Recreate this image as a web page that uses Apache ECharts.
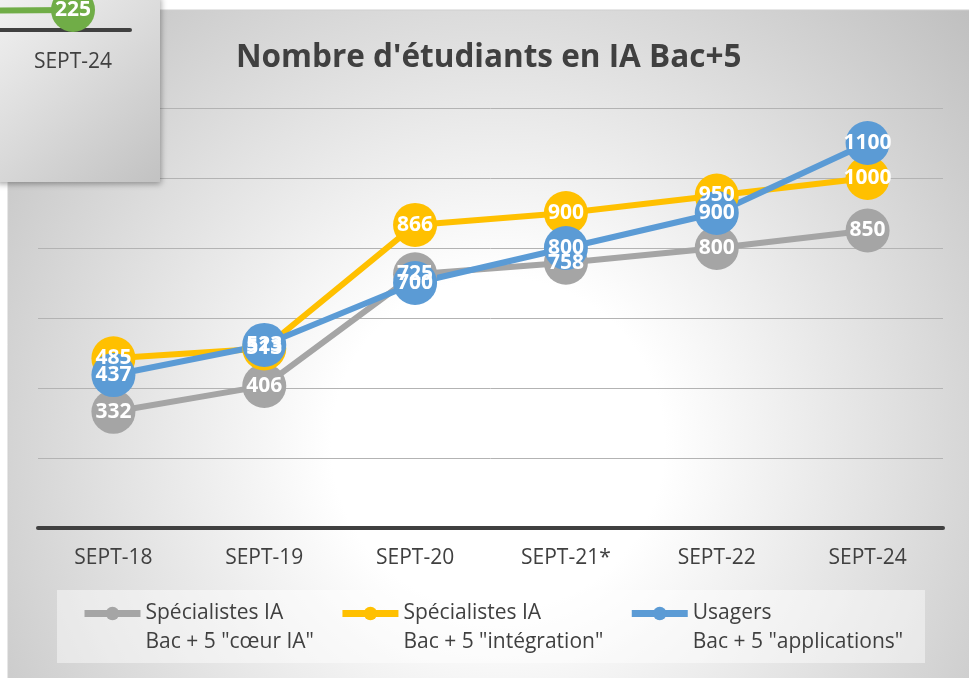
<!DOCTYPE html>
<html>
<head>
<meta charset="utf-8">
<script src="https://cdn.jsdelivr.net/npm/echarts@6/dist/echarts.min.js"></script>
<style>
  html, body { margin: 0; padding: 0; background: #fff; }
  #chart { width: 969px; height: 678px; }
</style>
</head>
<body>
<div id="chart"></div>
<script>
// values
const categories = ['SEPT-18', 'SEPT-19', 'SEPT-20', 'SEPT-21*', 'SEPT-22', 'SEPT-24']
const coeurIA = [332, 406, 725, 758, 800, 850]
const integration = [485, 513, 866, 900, 950, 1000]
const applications = [437, 523, 700, 800, 900, 1100]
const seriesNames = ['Spécialistes IA\nBac + 5 "cœur IA"', 'Spécialistes IA\nBac + 5 "intégration"', 'Usagers\nBac + 5 "applications"']
const yTicks = [0, 200, 400, 600, 800, 1000, 1200]

// piece of another chart lying over the top-left corner
const fragmentCategories = ['SEPT-22', 'SEPT-24']
const fragmentValues = [214, 225]

const FONT = '"Open Sans", "Noto Sans", sans-serif'
const DARK = '#404040'

const chart = echarts.init(document.getElementById('chart'))

const lineSeries = (name, data, color) => ({
  name,
  type: 'line',
  data,
  xAxisIndex: 0,
  yAxisIndex: 0,
  symbol: 'circle',
  symbolSize: 44,
  showAllSymbol: true,
  lineStyle: { color, width: 6 },
  itemStyle: { color },
  label: {
    show: true,
    position: 'inside',
    color: '#fff',
    fontFamily: FONT,
    fontWeight: 'bold',
    fontSize: 21
  },
  emphasis: { disabled: true },
  z: 2
})

const option = {
  animation: false,
  title: {
    text: "Nombre d'étudiants en IA Bac+5",
    left: 236,
    top: 42,
    padding: 0,
    textStyle: { fontFamily: FONT, fontWeight: 'bold', fontSize: 31.5, color: DARK }
  },
  graphic: [
    {
      type: 'rect',
      z: -10,
      shape: { x: 8, y: 10, width: 980, height: 700 },
      style: {
        fill: new echarts.graphic.RadialGradient(0.5, 0.62, 0.95, [
          { offset: 0, color: '#ffffff' },
          { offset: 0.25, color: '#ffffff' },
          { offset: 1, color: '#bcbcbc' }
        ]),
        stroke: '#cfcfcf',
        lineWidth: 1
      }
    },
    {
      type: 'rect',
      z: 1,
      shape: { x: 57, y: 590, width: 868, height: 73 },
      style: { fill: 'rgba(255,255,255,0.45)' }
    },
    {
      type: 'rect',
      z: 1,
      shape: { x: -4, y: -4, width: 164, height: 186 },
      style: {
        fill: new echarts.graphic.LinearGradient(0, 0, 1, 1, [
          { offset: 0, color: '#f2f2f2' },
          { offset: 1, color: '#c2c2c2' }
        ]),
        shadowBlur: 6,
        shadowOffsetX: 1,
        shadowOffsetY: 2,
        shadowColor: 'rgba(0,0,0,0.35)'
      }
    }
  ],
  legend: {
    data: seriesNames,
    left: 81,
    top: 570,
    padding: 0,
    itemWidth: 56,
    itemHeight: 17,
    itemGap: 25,
    lineStyle: { width: 7 },
    formatter: name => '\n' + name,
    textStyle: {
      fontFamily: FONT,
      fontSize: 21,
      color: DARK,
      lineHeight: 29
    },
    z: 4
  },
  grid: [
    { left: 38, right: 26, top: 108, bottom: 150, outerBoundsMode: 'none' },
    { left: -98, right: 839, top: 3.33, bottom: 648, outerBoundsMode: 'none' }
  ],
  xAxis: [
    {
      type: 'category',
      gridIndex: 0,
      data: categories,
      boundaryGap: true,
      axisLine: { lineStyle: { color: DARK, width: 4 } },
      axisTick: { show: false },
      axisLabel: { color: DARK, fontFamily: FONT, fontSize: 21, margin: 20, interval: 0 }
    },
    {
      type: 'category',
      gridIndex: 1,
      data: fragmentCategories,
      boundaryGap: true,
      z: 3,
      axisLine: { lineStyle: { color: DARK, width: 4 } },
      axisTick: { show: false },
      axisLabel: { color: DARK, fontFamily: FONT, fontSize: 21, margin: 22, interval: 0 }
    }
  ],
  yAxis: [
    {
      type: 'value',
      gridIndex: 0,
      min: yTicks[0],
      max: yTicks[yTicks.length - 1],
      interval: yTicks[1] - yTicks[0],
      axisLine: { show: false },
      axisTick: { show: false },
      axisLabel: { show: false },
      splitLine: { lineStyle: { color: '#b3b3b3', width: 1 } }
    },
    {
      type: 'value',
      gridIndex: 1,
      min: 0,
      max: 300,
      show: false,
      splitLine: { show: false }
    }
  ],
  series: [
    lineSeries(seriesNames[0], coeurIA, '#a5a5a5'),
    lineSeries(seriesNames[1], integration, '#ffc000'),
    lineSeries(seriesNames[2], applications, '#5b9bd5'),
    {
      type: 'line',
      xAxisIndex: 1,
      yAxisIndex: 1,
      data: fragmentValues,
      symbol: 'circle',
      symbolSize: 44,
      showAllSymbol: true,
      lineStyle: { color: '#70ad47', width: 6 },
      itemStyle: { color: '#70ad47' },
      label: {
        show: true,
        position: 'inside',
        color: '#fff',
        fontFamily: FONT,
        fontWeight: 'bold',
        fontSize: 21
      },
      emphasis: { disabled: true },
      clip: false,
      z: 3
    }
  ]
}

chart.setOption(option)
</script>
</body>
</html>
